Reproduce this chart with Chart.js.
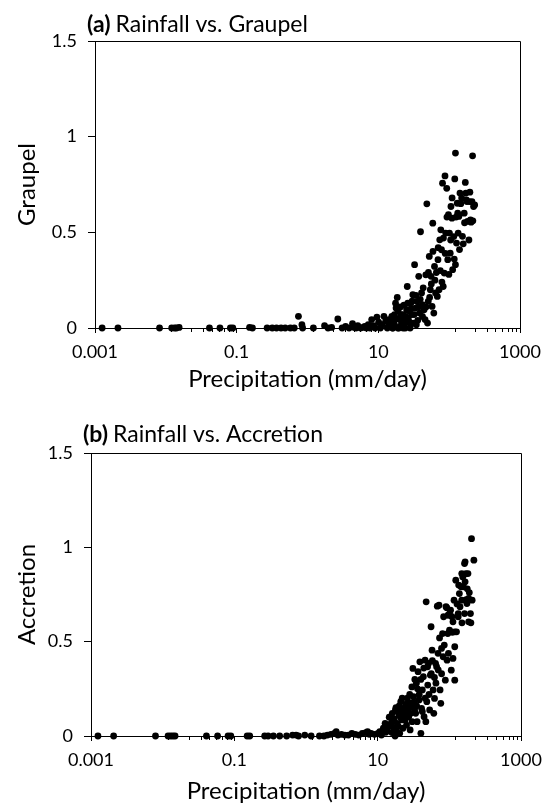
<!DOCTYPE html>
<html>
<head>
<meta charset="utf-8">
<script src="https://cdn.jsdelivr.net/npm/chart.js@4.4.0/dist/chart.umd.min.js"></script>
<style>
  body { margin: 0; background: #fff; }
  canvas { display: block; }
</style>
</head>
<body>
<canvas id="chartA" width="554" height="400"></canvas>
<canvas id="chartB" width="554" height="406"></canvas>
<script>
// axis ticks
var xMajor = [0.001, 0.1, 10, 1000];
var xLabels = ["0.001", "0.1", "10", "1000"];
var xMinor = [0.012, 0.023, 0.034, 0.045, 0.056, 0.067, 0.078, 0.089,
              1.2, 2.3, 3.4, 4.5, 5.6, 6.7, 7.8, 8.9,
              120, 230, 340, 450, 560, 670, 780, 890];
var yTicks = [0, 0.5, 1, 1.5];
var yLabels = ["0", "0.5", "1", "1.5"];

// (a) precipitation vs graupel
var graupelX = [0.00126,0.00211,0.00815,0.0121,0.0133,0.0141,0.0154,0.0413,0.0581,0.0815,0.0883,0.152,0.167,0.269,0.318,0.365,0.423,0.484,0.574,0.65,
  0.745,0.834,0.853,1.21,1.74,1.95,2.19,2.68,3.08,3.45,3.86,4.32,4.57,4.84,5.12,5.61,6.07,6.43,6.8,7.2,
  7.62,8.06,8.53,9.03,9.55,10.1,10.7,11.3,12.0,12.7,13.4,14.2,15.0,15.9,16.9,17.8,18.9,20.0,21.1,22.4,
  22.4,23.7,25.1,25.6,26.5,28.1,28.7,29.7,30.7,31.5,32.5,33.3,34.4,35.2,37.2,38.1,39.4,40.8,41.8,44.2,
  45.7,46.8,48.4,49.5,50.6,52.4,54.2,55.5,57.4,58.7,60.7,62.1,64.3,68,69.5,72,73.6,76.2,77.9,80.6,
  82.4,85.3,87.3,89.3,92.4,95.5,97.7,101,103.5,106,109.5,112,116,120,122.7,122.7,127,130,134,137,
  142,150,154,163,169,172,178,182,193,200,204,214,221,229,216,
  14,15.5,16,16.5,17,17.5,18,18.5,19,19.5,20.5,21,22,23,24,24.5,26,27,27.5,29,
  30,32,34,36,37,39,42,43,47,51,53,56,59,63,66,70,75,79,83,88,
  93,99,105,110,118,125,132,140,146,158,165,175,190,196,210];
var graupelY = [0,0,0,0,0,0,0.003,0,0,0,0,0.003,0,0,0,0,0,0,0,0,
  0.061,0.017,0,0,0.012,0,0.003,0.047,0,0.009,0,0.023,0.003,0,0.012,0,0.003,0.009,0,0.017,
  0,0.044,0.012,0,0.057,0.03,0,0.017,0.061,0.035,0,0.044,0.026,0,0.07,0.104,0,0.044,0.017,0.07,
  0,0.026,0.096,0.217,0.052,0,0.131,0.07,0.174,0.026,0.331,0.104,0.017,0.139,0.27,0.078,0.503,0.183,0.122,0.096,
  0.044,0.278,0.649,0.026,0.139,0.374,0.2,0.27,0.113,0.548,0.078,0.322,0.183,0.165,0.357,0.2,0.461,0.513,0.409,0.757,
  0.217,0.287,0.795,0.496,0.73,0.357,0.592,0.496,0.391,0.635,0.574,0.305,0.478,0.779,0.914,0.331,0.444,0.652,0.496,0.583,
  0.705,0.679,0.479,0.6,0.761,0.705,0.661,0.557,0.661,0.565,0.553,0.9,0.635,0.643,0.56,
  0.01,0.06,0,0.03,0.015,0.13,0.05,0.16,0.09,0,0.11,0.07,0.04,0.12,0,0.06,0.13,0.09,0.03,0.1,
  0.14,0.07,0.17,0.04,0.11,0.15,0.06,0.21,0.11,0.29,0.16,0.23,0.4,0.25,0.29,0.42,0.3,0.24,0.47,0.39,
  0.58,0.28,0.46,0.68,0.36,0.58,0.6,0.41,0.65,0.44,0.55,0.67,0.46,0.71,0.66];

// (b) precipitation vs accretion
var accretionX = [0.00125,0.00207,0.00794,0.0119,0.0129,0.0139,0.0149,0.0408,0.0584,0.0817,0.0893,0.151,0.164,0.265,0.296,0.351,0.429,0.537,0.65,0.727,
  0.786,0.962,1.18,1.54,1.78,1.99,2.23,2.49,2.64,2.79,3.12,3.49,3.9,4.37,4.88,5.46,6.11,6.84,7.23,7.64,
  8.09,9.04,10.1,10.7,11.3,12.0,12.7,13.4,14.2,15.0,15.8,16.7,17.7,18.3,18.7,19.8,20.3,21.0,21.7,22.2,
  22.6,23.4,24.2,24.8,25.3,26.2,27.1,27.7,28.4,29.3,30.3,31.0,31.7,32.8,33.9,34.7,35.5,36.6,37.9,38.8,
  40.1,41.0,42.0,43.4,44.4,45.9,47.0,47.5,48.5,49.7,51.4,53.1,54.3,55.6,57.4,59.4,60.7,62.1,64.2,66.4,
  67.9,69.5,71.8,74.3,76.0,77.8,80.4,83.2,85.0,87.9,89.9,93.0,95.1,97.2,100.5,100.5,104,106.4,108.7,112.4,
  116.3,119,119,123,126,133,138,141,146,149,154,157,163,166,172,176,182,186,197,163,
  166,204,220,208,186,149,133,119,112.4,
  13,14.5,15.5,16,17,17.5,18,19,19.5,20,20.8,21.5,22,23,24,25,26,27,28,29,
  30,32,33,35,36,38,40,42,44,46,50,52,56,58,62,65,70,73,78,82,
  92,96,110,128,135,150,170,178,200,190];
var accretionY = [0,0,0,0,0,0,0,0,0,0,0,0,0,0,0,0,0,0,0.005,0.005,
  0,0.005,0,0,0,0.005,0.009,0.014,0.023,0.005,0.009,0.005,0.005,0.014,0.009,0.005,0.014,0.018,0.023,0.009,
  0.014,0.009,0.014,0.023,0.005,0.041,0.067,0.032,0.058,0.053,0.018,0.041,0.138,0.023,0.067,0.111,0.014,0.182,0.085,0.146,
  0.041,0.12,0.085,0.169,0.058,0.129,0.102,0.176,0.032,0.155,0.076,0.358,0.208,0.138,0.12,0.279,0.076,0.341,0.191,0.393,
  0.014,0.146,0.244,0.314,0.102,0.402,0.076,0.711,0.182,0.367,0.385,0.138,0.323,0.579,0.455,0.244,0.12,0.199,0.385,0.367,
  0.688,0.438,0.693,0.244,0.173,0.464,0.543,0.632,0.482,0.296,0.685,0.402,0.543,0.438,0.561,0.649,0.667,0.349,0.632,0.605,
  0.72,0.296,0.552,0.826,0.552,0.649,0.755,0.685,0.791,0.861,0.843,0.791,0.649,0.817,0.723,0.702,0.861,0.729,0.649,0.914,
  0.923,1.046,0.932,0.72,0.605,0.72,0.632,0.473,0.411,
  0.02,0.1,0.07,0.12,0.09,0,0.15,0.13,0.05,0.16,0.1,0.13,0.2,0.1,0.14,0.11,0.2,0.15,0.22,0.12,
  0.26,0.18,0.3,0.16,0.25,0.22,0.3,0.13,0.36,0.2,0.27,0.22,0.33,0.4,0.31,0.28,0.35,0.52,0.33,0.42,
  0.68,0.64,0.55,0.7,0.8,0.6,0.86,0.78,0.6,0.76];

Chart.defaults.font.family = 'Lato, "Open Sans", sans-serif';
Chart.defaults.color = '#000';

// frame on top/right, minor log ticks and the "(a) ..." heading
var panelDecor = {
  id: 'panelDecor',
  afterDraw: function(chart) {
    var ctx = chart.ctx, a = chart.chartArea, x = chart.scales.x;
    var o = chart.options.plugins.panelDecor;
    ctx.save();
    ctx.strokeStyle = '#000';
    ctx.lineWidth = 1;
    ctx.beginPath();
    ctx.moveTo(a.left, Math.round(a.top) + 0.5);
    ctx.lineTo(Math.round(a.right) + 0.5, Math.round(a.top) + 0.5);
    ctx.lineTo(Math.round(a.right) + 0.5, a.bottom);
    xMinor.forEach(function(v) {
      var px = Math.round(x.getPixelForValue(v)) + 0.5;
      ctx.moveTo(px, a.bottom);
      ctx.lineTo(px, a.bottom + 4);
    });
    ctx.stroke();

    ctx.fillStyle = '#000';
    ctx.textBaseline = 'alphabetic';
    ctx.font = 'bold 23px Lato';
    ctx.fillText(o.tag, a.left - 8, a.top - o.gap);
    var w = ctx.measureText(o.tag).width + 5;
    ctx.font = '23px Lato';
    ctx.fillText(o.text, a.left - 8 + w, a.top - o.gap);
    ctx.restore();
  }
};

function makePanel(id, tag, text, yTitle, xs, ys, box, h, titleGap, xTitlePad) {
  var pts = xs.map(function(v, i) { return {x: v, y: ys[i]}; });
  return new Chart(document.getElementById(id), {
    type: 'scatter',
    data: {
      datasets: [{
        data: pts,
        pointRadius: 3.4,
        pointBackgroundColor: '#000',
        pointBorderWidth: 0,
        clip: false
      }]
    },
    options: {
      responsive: false,
      animation: false,
      devicePixelRatio: 1,
      layout: { padding: { left: 0, right: 554 - box.right, top: box.top, bottom: 0 } },
      plugins: {
        legend: { display: false },
        tooltip: { enabled: false },
        panelDecor: { tag: tag, text: text, gap: titleGap }
      },
      scales: {
        x: {
          type: 'logarithmic',
          min: 0.001,
          max: 1000,
          afterBuildTicks: function(s) { s.ticks = xMajor.map(function(v) { return {value: v}; }); },
          afterFit: function(s) { s.height = h - box.bottom; },
          ticks: {
            autoSkip: false, maxRotation: 0, padding: 8,
            font: { size: 18 }, color: '#000',
            callback: function(v, i) { return xLabels[i]; }
          },
          grid: { drawOnChartArea: false, tickLength: 5, color: '#000' },
          border: { color: '#000' },
          title: { display: true, text: 'Precipitation (mm/day)', font: { size: 24 }, color: '#000',
                   padding: { top: 0, bottom: xTitlePad } }
        },
        y: {
          min: 0,
          max: 1.5,
          afterBuildTicks: function(s) { s.ticks = yTicks.map(function(v) { return {value: v}; }); },
          afterFit: function(s) { s.width = box.left; },
          ticks: {
            padding: 11, font: { size: 18 }, color: '#000',
            callback: function(v, i) { return yLabels[i]; }
          },
          grid: { drawOnChartArea: false, tickLength: 7, color: '#000' },
          border: { color: '#000' },
          title: { display: true, text: yTitle, font: { size: 24 }, color: '#000',
                   padding: { top: 13, bottom: 0 } }
        }
      }
    },
    plugins: [panelDecor]
  });
}

makePanel('chartA', '(a)', 'Rainfall vs. Graupel', 'Graupel', graupelX, graupelY,
  { left: 95, right: 520, top: 41, bottom: 328 }, 400, 9, 6);
makePanel('chartB', '(b)', 'Rainfall vs. Accretion', 'Accretion', accretionX, accretionY,
  { left: 91, right: 521, top: 53, bottom: 336 }, 406, 11, 0);
</script>
</body>
</html>
